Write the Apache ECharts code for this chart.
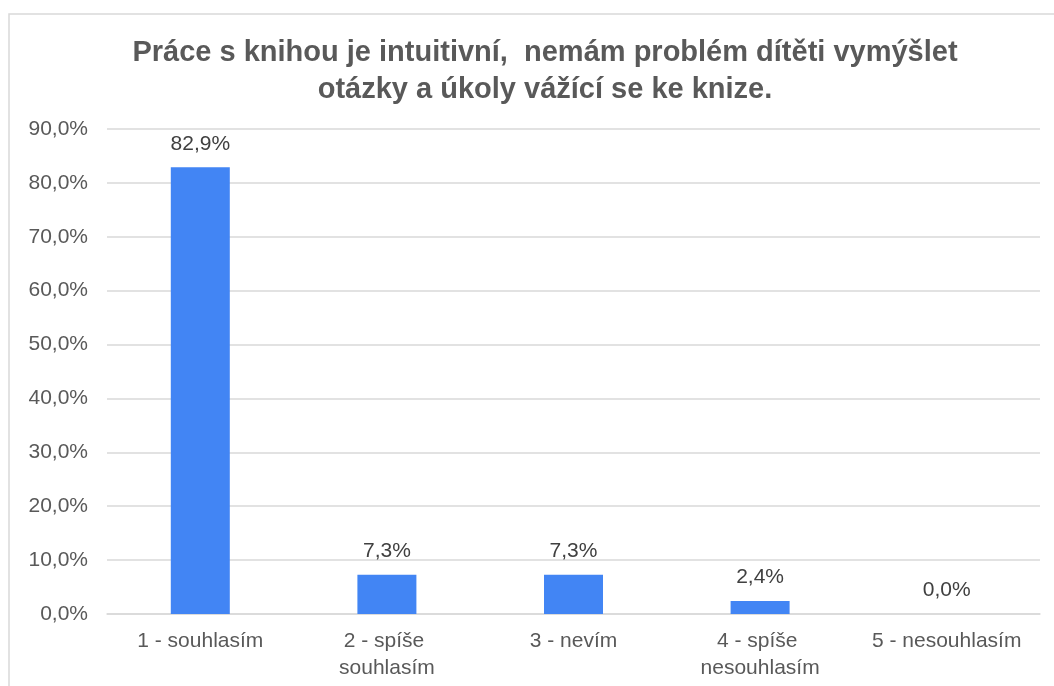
<!DOCTYPE html>
<html>
<head>
<meta charset="utf-8">
<script src="https://cdn.jsdelivr.net/npm/echarts@6/dist/echarts.min.js"></script>
<style>
  html, body { margin: 0; padding: 0; background: #fff; }
  #chart { width: 1054px; height: 686px; }
</style>
</head>
<body>
<div id="chart"></div>
<script>
// data
var chartTitle = 'Práce s knihou je intuitivní,  nemám problém dítěti vymýšlet\notázky a úkoly vážící se ke knize.';
var categories = ['1 - souhlasím', '2 - spíše souhlasím', '3 - nevím', '4 - spíše nesouhlasím', '5 - nesouhlasím'];
var percents = [82.9, 7.3, 7.3, 2.4, 0.0];

function fmt(v) {
    return Number(v).toFixed(1).replace('.', ',') + '%';
}

var option = {
    backgroundColor: '#fff',
    animation: false,
    graphic: [
        {
            type: 'rect',
            shape: { x: 9, y: 14, width: 1100, height: 720 },
            style: { fill: 'none', stroke: '#d9d9d9', lineWidth: 1.5 },
            silent: true
        }
    ],
    title: {
        text: chartTitle,
        left: 540,
        textAlign: 'center',
        top: 29,
        textStyle: {
            fontFamily: 'Liberation Sans, Arial, sans-serif',
            fontSize: 29,
            fontWeight: 'bold',
            color: '#595959',
            lineHeight: 37
        }
    },
    grid: {
        left: 107,
        right: 14,
        top: 129,
        bottom: 72,
        containLabel: false
    },
    xAxis: {
        type: 'category',
        data: categories,
        axisTick: { show: false },
        axisLine: { lineStyle: { color: '#d9d9d9', width: 1.5 } },
        axisLabel: {
            interval: 0,
            margin: 14,
            width: 170,
            overflow: 'break',
            lineHeight: 27,
            fontFamily: 'Liberation Sans, Arial, sans-serif',
            fontSize: 21,
            color: '#595959'
        }
    },
    yAxis: {
        type: 'value',
        min: 0,
        max: 90,
        interval: 10,
        axisLine: { show: false },
        axisTick: { show: false },
        splitLine: { lineStyle: { color: '#d9d9d9', width: 1.5 } },
        axisLabel: {
            margin: 19,
            fontFamily: 'Liberation Sans, Arial, sans-serif',
            fontSize: 21,
            color: '#595959',
            formatter: fmt
        }
    },
    series: [
        {
            type: 'bar',
            data: percents,
            barWidth: 59,
            itemStyle: { color: '#4285f4' },
            label: {
                show: true,
                position: 'top',
                distance: 13,
                fontFamily: 'Liberation Sans, Arial, sans-serif',
                fontSize: 21,
                color: '#404040',
                formatter: function (p) { return fmt(p.value); }
            }
        }
    ]
};

var myChart = echarts.init(document.getElementById('chart'));
myChart.setOption(option);
</script>
</body>
</html>
